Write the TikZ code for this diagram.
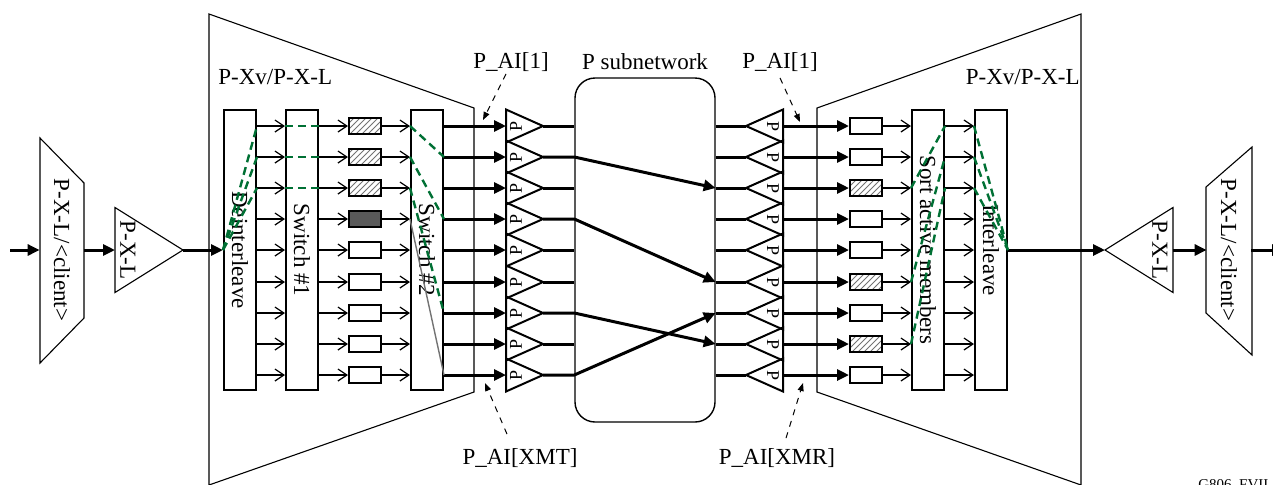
\documentclass[tikz,border=0pt]{standalone}
\usepackage{fontspec}
\setmainfont{Liberation Serif}
\usetikzlibrary{arrows.meta,shapes.geometric,patterns}
\definecolor{swgreen}{RGB}{0,112,52}

\begin{document}
\begin{tikzpicture}[x=0.5pt, y=-0.5pt,
  every node/.style={font=\fontsize{11.5}{13}\selectfont, inner sep=1pt},
  outline/.style={line width=0.55pt},
  tallbox/.style={draw, line width=1pt, minimum width=16pt, minimum height=140pt, inner sep=0pt},
  cellbox/.style={draw, line width=1pt, minimum width=16pt, minimum height=8pt, inner sep=0pt, fill=white},
  hatchbox/.style={cellbox, pattern=north east lines, pattern color=black!55},
  darkbox/.style={cellbox, fill=black!65},
  ptri/.style={isosceles triangle, isosceles triangle stretches, draw, line width=1pt, minimum height=18.5pt, minimum width=16.5pt, inner sep=0pt, outer sep=0pt, anchor=lower side, font=\fontsize{9}{10}\selectfont},
  pxltri/.style={isosceles triangle, isosceles triangle stretches, draw, line width=0.55pt, minimum height=34pt, minimum width=42.5pt, inner sep=0pt, outer sep=0pt, anchor=lower side},
  clientbox/.style={minimum width=22pt, minimum height=60pt, inner sep=0pt},
  subnet/.style={draw, line width=0.7pt, rounded corners=10pt, minimum width=70pt, minimum height=172pt},
  thinarr/.style={line width=0.6pt, -{Straight Barb[length=4.5pt,width=6pt]}},
  fatarr/.style={line width=1.5pt, -{Triangle[length=6pt,width=5.5pt]}},
  fatline/.style={line width=1.5pt},
  dasharr/.style={line width=0.5pt, dashed, -{Triangle[length=4pt,width=3pt]}},
  grnpath/.style={swgreen, line width=1.2pt, dash pattern=on 4pt off 2.5pt},
  graypath/.style={black!55, line width=0.7pt}]
\useasboundingbox (0,0) rectangle (1273,484);
\draw[outline] (209,14) -- (474,108) -- (474,392) -- (209,485) -- cycle;
\draw[outline] (1081,14) -- (817,108) -- (817,392) -- (1081,485) -- cycle;
\node[anchor=west] (xvl) at (216,77) {P-Xv/P-X-L};
\node[anchor=east] (xvr) at (1082,77) {P-Xv/P-X-L};
\coordinate (inl) at (10,250);
\node[clientbox] (cll) at (62,250) {\rotatebox{-90}{P-X-L/<client>}};
\draw[outline] (40,138) -- (84,183) -- (84,318) -- (40,363) -- cycle;
\node[pxltri] (txl) at (115,250) {};
\node (txll) at (128,250) {\rotatebox{-90}{P-X-L}};
\node[tallbox] (dei) at (240,250) {\rotatebox{-90}{Deinterleave}};
\node[tallbox] (swa) at (302,250) {\rotatebox{-90}{Switch \#1}};
\node[tallbox] (swb) at (427,250) {\rotatebox{-90}{Switch \#2}};
\node[hatchbox] (ra1) at (365,126) {};
\node[hatchbox] (ra2) at (365,157) {};
\node[hatchbox] (ra3) at (365,188) {};
\node[darkbox] (ra4) at (365,219) {};
\node[cellbox] (ra5) at (365,250) {};
\node[cellbox] (ra6) at (365,282) {};
\node[cellbox] (ra7) at (365,313) {};
\node[cellbox] (ra8) at (365,344) {};
\node[cellbox] (ra9) at (365,375) {};
\node[ptri] (pa1) at (506,126) {\rotatebox{90}{P}};
\node[ptri] (pa2) at (506,157) {\rotatebox{90}{P}};
\node[ptri] (pa3) at (506,188) {\rotatebox{90}{P}};
\node[ptri] (pa4) at (506,219) {\rotatebox{90}{P}};
\node[ptri] (pa5) at (506,250) {\rotatebox{90}{P}};
\node[ptri] (pa6) at (506,282) {\rotatebox{90}{P}};
\node[ptri] (pa7) at (506,313) {\rotatebox{90}{P}};
\node[ptri] (pa8) at (506,344) {\rotatebox{90}{P}};
\node[ptri] (pa9) at (506,375) {\rotatebox{90}{P}};
\node[subnet] (sub) at (645,250) {};
\node (subl) at (645,62) {P subnetwork};
\node[ptri, shape border rotate=180] (pb1) at (783,126) {\rotatebox{-90}{P}};
\node[ptri, shape border rotate=180] (pb2) at (783,157) {\rotatebox{-90}{P}};
\node[ptri, shape border rotate=180] (pb3) at (783,188) {\rotatebox{-90}{P}};
\node[ptri, shape border rotate=180] (pb4) at (783,219) {\rotatebox{-90}{P}};
\node[ptri, shape border rotate=180] (pb5) at (783,250) {\rotatebox{-90}{P}};
\node[ptri, shape border rotate=180] (pb6) at (783,282) {\rotatebox{-90}{P}};
\node[ptri, shape border rotate=180] (pb7) at (783,313) {\rotatebox{-90}{P}};
\node[ptri, shape border rotate=180] (pb8) at (783,344) {\rotatebox{-90}{P}};
\node[ptri, shape border rotate=180] (pb9) at (783,375) {\rotatebox{-90}{P}};
\node[cellbox] (rb1) at (866,126) {};
\node[cellbox] (rb2) at (866,157) {};
\node[hatchbox] (rb3) at (866,188) {};
\node[cellbox] (rb4) at (866,219) {};
\node[cellbox] (rb5) at (866,250) {};
\node[hatchbox] (rb6) at (866,282) {};
\node[cellbox] (rb7) at (866,313) {};
\node[hatchbox] (rb8) at (866,344) {};
\node[cellbox] (rb9) at (866,375) {};
\node[tallbox] (srt) at (928,250) {\rotatebox{-90}{Sort active members}};
\node[tallbox] (itl) at (991,250) {\rotatebox{-90}{Interleave}};
\node[pxltri, shape border rotate=180] (txr) at (1173,250) {};
\node (txrl) at (1160,250) {\rotatebox{-90}{P-X-L}};
\node[clientbox] (clr) at (1229,250) {\rotatebox{-90}{P-X-L/<client>}};
\draw[outline] (1252,147) -- (1206,187) -- (1206,313) -- (1252,355) -- cycle;
\coordinate (outr) at (1284,250);
\draw[fatarr] (inl) -- (cll.west);
\draw[fatarr] (cll.east) -- (txl.lower side);
\draw[fatarr] (txl.apex) -- (dei.west);
\draw[thinarr] (dei.east |- ra1) -- (swa.west |- ra1);
\draw[thinarr] (dei.east |- ra2) -- (swa.west |- ra2);
\draw[thinarr] (dei.east |- ra3) -- (swa.west |- ra3);
\draw[thinarr] (dei.east |- ra4) -- (swa.west |- ra4);
\draw[thinarr] (dei.east |- ra5) -- (swa.west |- ra5);
\draw[thinarr] (dei.east |- ra6) -- (swa.west |- ra6);
\draw[thinarr] (dei.east |- ra7) -- (swa.west |- ra7);
\draw[thinarr] (dei.east |- ra8) -- (swa.west |- ra8);
\draw[thinarr] (dei.east |- ra9) -- (swa.west |- ra9);
\draw[thinarr] (swa.east |- ra1) -- (ra1.west);
\draw[thinarr] (swa.east |- ra2) -- (ra2.west);
\draw[thinarr] (swa.east |- ra3) -- (ra3.west);
\draw[thinarr] (swa.east |- ra4) -- (ra4.west);
\draw[thinarr] (swa.east |- ra5) -- (ra5.west);
\draw[thinarr] (swa.east |- ra6) -- (ra6.west);
\draw[thinarr] (swa.east |- ra7) -- (ra7.west);
\draw[thinarr] (swa.east |- ra8) -- (ra8.west);
\draw[thinarr] (swa.east |- ra9) -- (ra9.west);
\draw[thinarr] (ra1.east) -- (swb.west |- ra1);
\draw[thinarr] (ra2.east) -- (swb.west |- ra2);
\draw[thinarr] (ra3.east) -- (swb.west |- ra3);
\draw[thinarr] (ra4.east) -- (swb.west |- ra4);
\draw[thinarr] (ra5.east) -- (swb.west |- ra5);
\draw[thinarr] (ra6.east) -- (swb.west |- ra6);
\draw[thinarr] (ra7.east) -- (swb.west |- ra7);
\draw[thinarr] (ra8.east) -- (swb.west |- ra8);
\draw[thinarr] (ra9.east) -- (swb.west |- ra9);
\draw[fatarr] (swb.east |- pa1) -- (pa1.lower side);
\draw[fatarr] (swb.east |- pa2) -- (pa2.lower side);
\draw[fatarr] (swb.east |- pa3) -- (pa3.lower side);
\draw[fatarr] (swb.east |- pa4) -- (pa4.lower side);
\draw[fatarr] (swb.east |- pa5) -- (pa5.lower side);
\draw[fatarr] (swb.east |- pa6) -- (pa6.lower side);
\draw[fatarr] (swb.east |- pa7) -- (pa7.lower side);
\draw[fatarr] (swb.east |- pa8) -- (pa8.lower side);
\draw[fatarr] (swb.east |- pa9) -- (pa9.lower side);
\draw[fatline] (pa1.apex) -- (pa1.apex -| sub.west);
\draw[fatarr] (pa2.apex) -- (pa2.apex -| sub.west) -- (pb3.apex -| sub.east);
\draw[fatline] (pa3.apex) -- (pa3.apex -| sub.west);
\draw[fatarr] (pa4.apex) -- (pa4.apex -| sub.west) -- (pb6.apex -| sub.east);
\draw[fatline] (pa5.apex) -- (pa5.apex -| sub.west);
\draw[fatline] (pa6.apex) -- (pa6.apex -| sub.west);
\draw[fatarr] (pa7.apex) -- (pa7.apex -| sub.west) -- (pb8.apex -| sub.east);
\draw[fatline] (pa8.apex) -- (pa8.apex -| sub.west);
\draw[fatarr] (pa9.apex) -- (pa9.apex -| sub.west) -- (pb7.apex -| sub.east);
\draw[fatline] (pb1.apex -| sub.east) -- (pb1.apex);
\draw[fatline] (pb2.apex -| sub.east) -- (pb2.apex);
\draw[fatline] (pb3.apex -| sub.east) -- (pb3.apex);
\draw[fatline] (pb4.apex -| sub.east) -- (pb4.apex);
\draw[fatline] (pb5.apex -| sub.east) -- (pb5.apex);
\draw[fatline] (pb6.apex -| sub.east) -- (pb6.apex);
\draw[fatline] (pb7.apex -| sub.east) -- (pb7.apex);
\draw[fatline] (pb8.apex -| sub.east) -- (pb8.apex);
\draw[fatline] (pb9.apex -| sub.east) -- (pb9.apex);
\draw[fatarr] (pb1.lower side) -- (rb1.west);
\draw[fatarr] (pb2.lower side) -- (rb2.west);
\draw[fatarr] (pb3.lower side) -- (rb3.west);
\draw[fatarr] (pb4.lower side) -- (rb4.west);
\draw[fatarr] (pb5.lower side) -- (rb5.west);
\draw[fatarr] (pb6.lower side) -- (rb6.west);
\draw[fatarr] (pb7.lower side) -- (rb7.west);
\draw[fatarr] (pb8.lower side) -- (rb8.west);
\draw[fatarr] (pb9.lower side) -- (rb9.west);
\draw[thinarr] (rb1.east) -- (srt.west |- rb1);
\draw[thinarr] (rb2.east) -- (srt.west |- rb2);
\draw[thinarr] (rb3.east) -- (srt.west |- rb3);
\draw[thinarr] (rb4.east) -- (srt.west |- rb4);
\draw[thinarr] (rb5.east) -- (srt.west |- rb5);
\draw[thinarr] (rb6.east) -- (srt.west |- rb6);
\draw[thinarr] (rb7.east) -- (srt.west |- rb7);
\draw[thinarr] (rb8.east) -- (srt.west |- rb8);
\draw[thinarr] (rb9.east) -- (srt.west |- rb9);
\draw[thinarr] (srt.east |- rb1) -- (itl.west |- rb1);
\draw[thinarr] (srt.east |- rb2) -- (itl.west |- rb2);
\draw[thinarr] (srt.east |- rb3) -- (itl.west |- rb3);
\draw[thinarr] (srt.east |- rb4) -- (itl.west |- rb4);
\draw[thinarr] (srt.east |- rb5) -- (itl.west |- rb5);
\draw[thinarr] (srt.east |- rb6) -- (itl.west |- rb6);
\draw[thinarr] (srt.east |- rb7) -- (itl.west |- rb7);
\draw[thinarr] (srt.east |- rb8) -- (itl.west |- rb8);
\draw[thinarr] (srt.east |- rb9) -- (itl.west |- rb9);
\draw[fatarr] (itl.east) -- (txr.apex);
\draw[fatarr] (txr.lower side) -- (clr.west);
\draw[fatarr] (clr.east) -- (outr);
\draw[grnpath] (dei.west) -- (dei.east |- ra1);
\draw[grnpath] (dei.west) -- (dei.east |- ra2);
\draw[grnpath] (dei.west) -- (dei.east |- ra3);
\draw[grnpath] (swa.west |- ra1) -- (swa.east |- ra1);
\draw[grnpath] (swa.west |- ra2) -- (swa.east |- ra2);
\draw[grnpath] (swa.west |- ra3) -- (swa.east |- ra3);
\draw[grnpath] (swb.west |- ra1) -- (swb.east |- ra2);
\draw[grnpath] (swb.west |- ra2) -- (swb.east |- ra4);
\draw[grnpath] (swb.west |- ra3) -- (swb.east |- ra7);
\draw[graypath] (swb.west |- ra4) -- (swb.east |- ra9);
\draw[grnpath] (srt.west |- rb3) -- (srt.east |- rb1);
\draw[grnpath] (srt.west |- rb6) -- (srt.east |- rb2);
\draw[grnpath] (srt.west |- rb8) -- (srt.east |- rb3);
\draw[grnpath] (itl.west |- rb1) -- (itl.east);
\draw[grnpath] (itl.west |- rb2) -- (itl.east);
\draw[grnpath] (itl.west |- rb3) -- (itl.east);
\node (ait) at (511,62) {P\_AI[1]};
\coordinate (aitp) at (483,120);
\draw[dasharr] ([xshift=-2.5pt]ait.south) -- (aitp);
\node (air) at (780,62) {P\_AI[1]};
\coordinate (airp) at (800,122);
\draw[dasharr] ([yshift=-2pt]air.south) -- (airp);
\node (aix) at (520,458) {P\_AI[XMT]};
\coordinate (aixp) at (485,383);
\draw[dasharr] ([xshift=-6.5pt,yshift=6pt]aix.north) -- (aixp);
\node (aiy) at (777,458) {P\_AI[XMR]};
\coordinate (aiyp) at (803,383);
\draw[dasharr] ([xshift=4.5pt,yshift=4pt]aiy.north) -- (aiyp);
\node[anchor=north west, font=\fontsize{7.5}{9}\selectfont] (fig) at (1196,477) {G806\_FVII};
\end{tikzpicture}
\end{document}
